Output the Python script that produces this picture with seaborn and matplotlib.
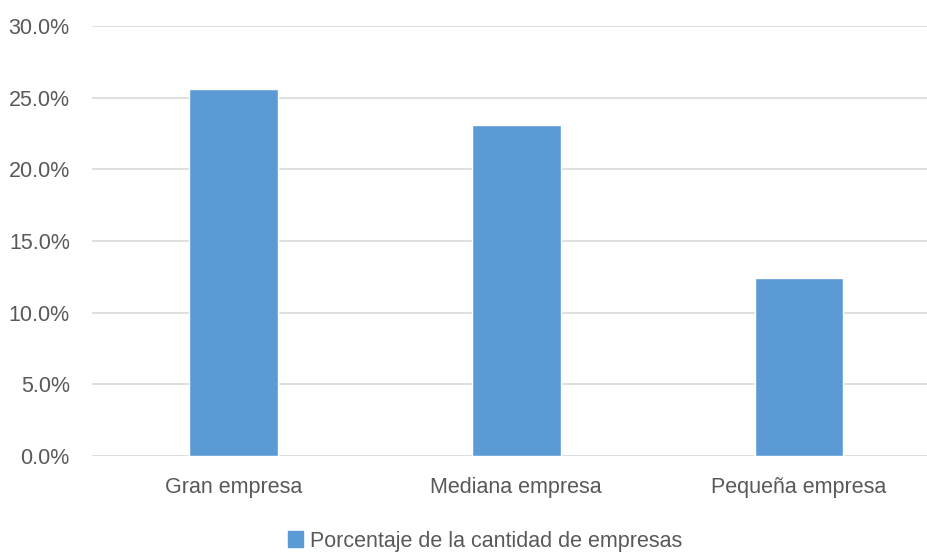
import matplotlib
matplotlib.use("Agg")
import matplotlib.pyplot as plt
import seaborn as sns
import pandas as pd
from matplotlib.ticker import PercentFormatter, MultipleLocator
from matplotlib.patches import Patch

categories = ["Gran empresa", "Mediana empresa", "Pequeña empresa"]
values = [0.256, 0.231, 0.124]
series_name = "Porcentaje de la cantidad de empresas"

sns.set_theme(style="white")
plt.rcParams['font.family'] = ['Liberation Sans', 'DejaVu Sans']

df = pd.DataFrame({"cat": categories, "val": values})

W, H = 927, 552
fig = plt.figure(figsize=(W / 100, H / 100), dpi=100)
left, right = 92 / W, 927 / W
bottom, top = 1 - 456 / H, 1 - 26 / H
ax = fig.add_axes([left, bottom, right - left, top - bottom])

color = "#5b9bd5"
text_color = "#595959"
sns.barplot(data=df, x="cat", y="val", color=color, width=0.313, ax=ax,
            saturation=1, zorder=3)

ax.set_ylim(0, 0.30)
ax.set_xlim(-0.5, 2.5 - (940.5 - 927) / 283)
ax.yaxis.set_major_locator(MultipleLocator(0.05))
ax.yaxis.set_major_formatter(PercentFormatter(1.0, decimals=1))
ax.grid(axis="y", color="#d9d9d9", linewidth=1.2, zorder=0)
ax.set_axisbelow(True)
for s in ax.spines.values():
    s.set_visible(False)
ax.set_xlabel("")
ax.set_ylabel("")
ax.tick_params(axis="y", length=0, pad=16, labelsize=15.5, labelcolor=text_color)
ax.tick_params(axis="x", length=0, pad=15, labelsize=15.5, labelcolor=text_color)

handle = Patch(facecolor=color, edgecolor=color)
fig.legend([handle], [series_name], loc="center", bbox_to_anchor=(485 / W, 1 - 541 / H),
           frameon=False, fontsize=15.5, labelcolor=text_color,
           handlelength=0.7, handleheight=0.7, handletextpad=0.3)

fig.savefig("out.png", dpi=100)
